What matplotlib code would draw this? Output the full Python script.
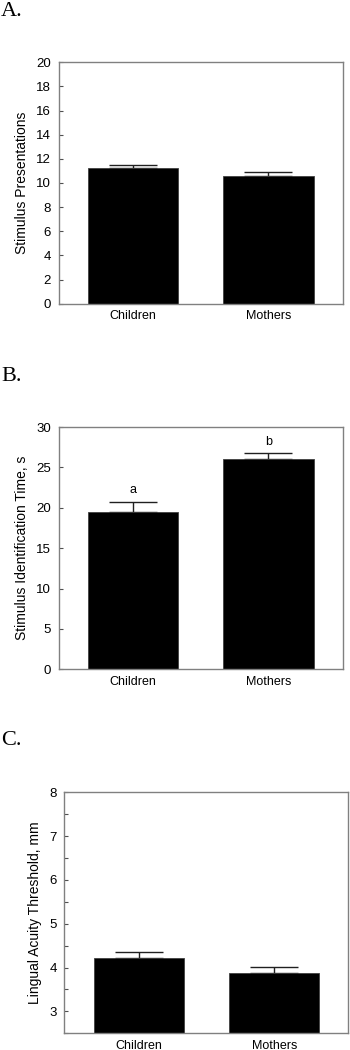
import numpy as np
import matplotlib
matplotlib.use("Agg")
import matplotlib.pyplot as plt
from matplotlib.ticker import MultipleLocator

plt.rcParams['font.family'] = ['Liberation Sans', 'DejaVu Sans']

groups = ["Children", "Mothers"]

# Panel A - stimulus presentations
pres_mean = [11.2, 10.6]
pres_err = [0.25, 0.3]

# Panel B - identification time
time_mean = [19.5, 26.0]
time_err = [1.25, 0.8]
time_letters = ["a", "b"]

# Panel C - lingual acuity threshold
acuity_mean = [4.21, 3.87]
acuity_err = [0.14, 0.15]

frame_col = "#808080"


def draw_panel(ax, means, errs, ylim, major, minor, ylabel, xlim):
    x = np.arange(len(groups))
    ax.bar(x, means, width=0.665, color="black", edgecolor="#404040", linewidth=0.6, zorder=2)
    ax.errorbar(x, means, yerr=[np.zeros(len(errs)), errs], fmt="none",
                ecolor="#202020", elinewidth=1.0, capsize=17, capthick=1.0, zorder=1)
    ax.set_xlim(*xlim)
    ax.set_ylim(*ylim)
    ax.yaxis.set_major_locator(MultipleLocator(major))
    if minor:
        ax.yaxis.set_minor_locator(MultipleLocator(minor))
    ax.set_xticks(x)
    ax.set_xticklabels(groups, fontsize=9)
    ax.tick_params(axis="x", length=0, pad=4.5)
    ax.tick_params(axis="y", which="both", direction="in", length=3, width=0.8,
                   color="#505050", labelsize=9.5, pad=5.5)
    for s in ax.spines.values():
        s.set_color(frame_col)
        s.set_linewidth(1.0)
    ax.set_ylabel(ylabel, fontsize=10, labelpad=5)


fig = plt.figure(figsize=(3.5, 10.5), dpi=100)

axA = fig.add_axes([0.1677, 0.7108, 0.8123, 0.2299])
draw_panel(axA, pres_mean, pres_err, (0, 20), 2, None, "Stimulus Presentations", (-0.548, 1.55))

axB = fig.add_axes([0.1677, 0.3626, 0.8123, 0.2307])
draw_panel(axB, time_mean, time_err, (0, 30), 5, None, "Stimulus Identification Time, s", (-0.548, 1.55))
for i, lab in enumerate(time_letters):
    axB.text(i, time_mean[i] + time_err[i] + 1.4, lab, ha="center", va="center", fontsize=9)

axC = fig.add_axes([0.184, 0.0159, 0.81, 0.2295])
draw_panel(axC, acuity_mean, acuity_err, (2.5, 8), 1, 0.5, "Lingual Acuity Threshold, mm", (-0.552, 1.543))

for lab, yy in [("A.", 0.998), ("B.", 0.6505), ("C.", 0.304)]:
    fig.text(0.003, yy, lab, fontsize=16, family="Liberation Serif", va="top", ha="left")

fig.savefig("out.png", dpi=100)
